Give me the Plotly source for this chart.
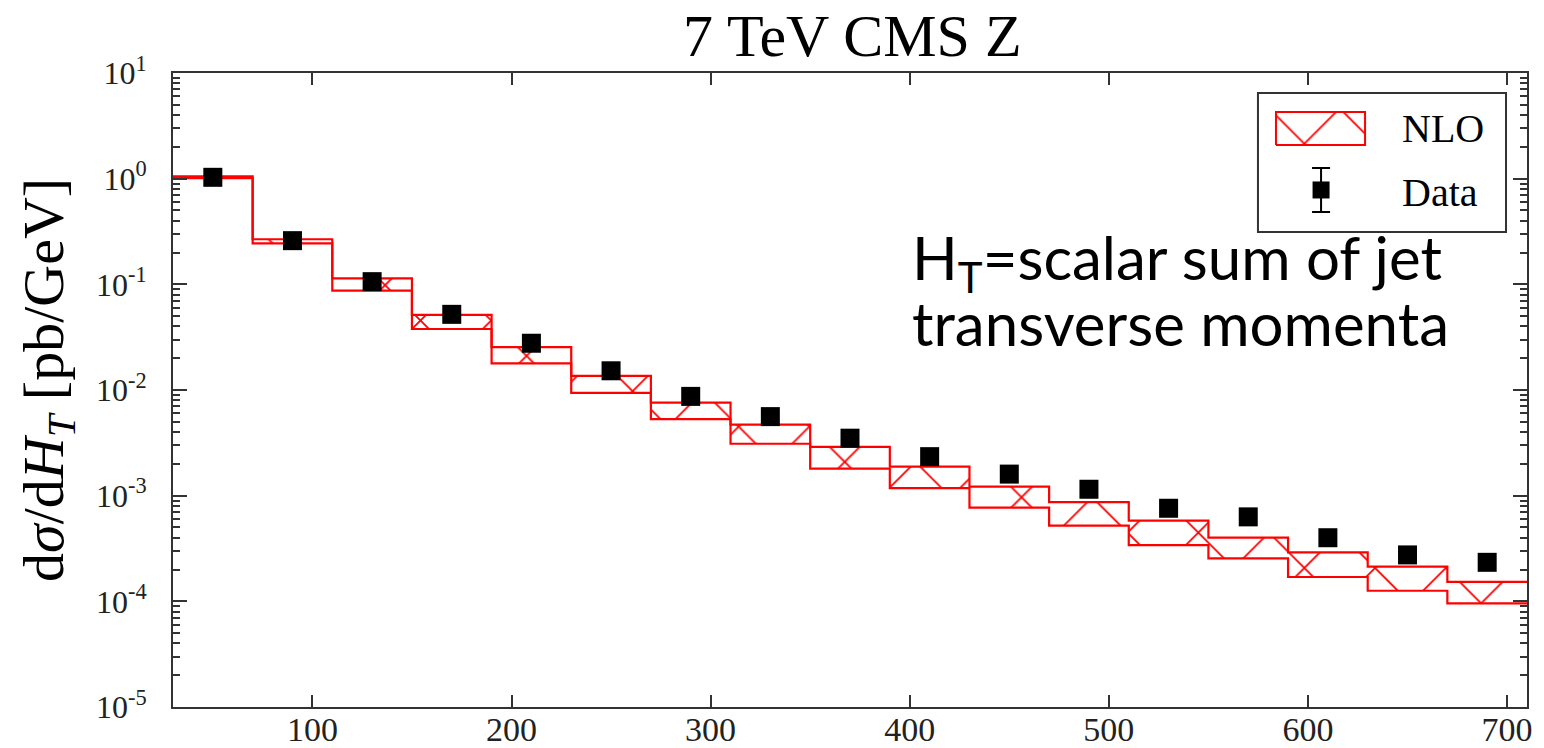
import plotly.graph_objects as go

# H_T binning [GeV]
bin_edges = [30, 70, 110, 150, 190, 230, 270, 310, 350, 390, 430, 470,
             510, 550, 590, 630, 670, 710]
bin_centres = [50, 90, 130, 170, 210, 250, 290, 330, 370, 410, 450, 490,
               530, 570, 610, 650, 690]

# NLO prediction band, dsigma/dH_T [pb/GeV]
nlo_upper = [1.05, 0.267, 0.114, 0.0513, 0.0254, 0.0136, 0.0076, 0.0047,
             0.0029, 0.00188, 0.00122, 0.00087, 0.00058, 0.00040, 0.00029,
             0.000213, 0.000153]
nlo_lower = [1.01, 0.244, 0.087, 0.0378, 0.0179, 0.0094, 0.0053, 0.0031,
             0.0018, 0.00118, 0.00077, 0.00052, 0.00034, 0.000255, 0.00017,
             0.000126, 0.0000957]

# CMS data points with uncertainties
data_xsec = [1.03, 0.259, 0.106, 0.052, 0.0277, 0.0152, 0.0087, 0.0056,
             0.0035, 0.00234, 0.0016, 0.00115, 0.00076, 0.00063, 0.00040,
             0.000275, 0.000234]
data_err = [0.04, 0.011, 0.005, 0.003, 0.0017, 0.0010, 0.0006, 0.0004,
            0.00026, 0.00018, 0.00013, 0.0001, 0.00007, 0.00006, 0.00004,
            0.00003, 0.00003]

y_tickvals = [1e-5, 1e-4, 1e-3, 1e-2, 1e-1, 1e0, 1e1]
y_ticktext = ["10<sup>-5</sup>", "10<sup>-4</sup>", "10<sup>-3</sup>",
              "10<sup>-2</sup>", "10<sup>-1</sup>", "10<sup>0</sup>",
              "10<sup>1</sup>"]
x_tickvals = [100, 200, 300, 400, 500, 600, 700]

SERIF = "Liberation Serif, Times New Roman, serif"
SANS = "Lato, sans-serif"
RED = "#ff0000"
AXIS = "#333333"
hatch = dict(shape="x", size=50, solidity=0.07, fgcolor=RED,
             bgcolor="rgba(0,0,0,0)", fgopacity=1)

fig = go.Figure()

# step outlines of the band (last value repeated to close the final bin)
fig.add_trace(go.Scatter(
    x=bin_edges, y=nlo_upper + nlo_upper[-1:], mode="lines",
    line=dict(color=RED, width=2.2, shape="hv"), showlegend=False,
    hoverinfo="skip"))
fig.add_trace(go.Scatter(
    x=bin_edges, y=nlo_lower + nlo_lower[-1:], mode="lines",
    line=dict(color=RED, width=2.2, shape="hv"), fill="tonexty",
    fillcolor="rgba(0,0,0,0)", fillpattern=hatch, showlegend=False,
    name="NLO"))

fig.add_trace(go.Scatter(
    x=bin_centres, y=data_xsec, mode="markers",
    marker=dict(symbol="square", size=19, color="black"),
    error_y=dict(type="data", array=data_err, color="black", thickness=2,
                 width=8),
    showlegend=False, name="Data"))

# legend key, drawn on a hidden overlay in plot-fraction units
legend_box = dict(x0=0.8013, x1=0.9845, y0=0.7492, y1=0.9685)
nlo_key_x = [0.8146, 0.8804, 0.8804, 0.8146, 0.8146]
nlo_key_y = [0.8864, 0.8864, 0.9385, 0.9385, 0.8864]
data_key_x, data_key_y, data_key_err = 0.8479, 0.8155, 0.0347

fig.add_trace(go.Scatter(
    x=nlo_key_x, y=nlo_key_y, mode="lines", fill="toself",
    fillcolor="rgba(0,0,0,0)", fillpattern=hatch,
    line=dict(color=RED, width=2), xaxis="x2", yaxis="y2",
    showlegend=False, hoverinfo="skip"))
fig.add_trace(go.Scatter(
    x=[data_key_x], y=[data_key_y], mode="markers",
    marker=dict(symbol="square", size=17, color="black"),
    error_y=dict(type="constant", value=data_key_err, color="black",
                 thickness=2, width=9),
    xaxis="x2", yaxis="y2", showlegend=False, hoverinfo="skip"))

fig.add_shape(type="rect", xref="paper", yref="paper",
              line=dict(color=AXIS, width=2), **legend_box)

fig.add_annotation(x=0.9062, y=0.9132, xref="paper", yref="paper",
                   text="NLO", showarrow=False, xanchor="left",
                   yanchor="middle", font=dict(family=SERIF, size=40,
                                               color="black"))
fig.add_annotation(x=0.9062, y=0.8123, xref="paper", yref="paper",
                   text="Data", showarrow=False, xanchor="left",
                   yanchor="middle", font=dict(family=SERIF, size=40,
                                               color="black"))

# title and axis title
fig.add_annotation(x=0.502, y=1.058, xref="paper", yref="paper",
                   text="7 TeV CMS Z", showarrow=False, xanchor="center",
                   yanchor="middle",
                   font=dict(family=SERIF, size=60, color="black"))
fig.add_annotation(x=-0.0923, y=0.516, xref="paper", yref="paper",
                   text="d<i>σ</i>/d<i>H<sub>T</sub></i> [pb/GeV]",
                   textangle=-90, showarrow=False, xanchor="center",
                   yanchor="middle",
                   font=dict(family=SERIF, size=58, color="black"))

# explanatory note, one annotation per line for tighter spacing
fig.add_annotation(x=0.5443, y=0.7700, xref="paper", yref="paper",
                   text="H<sub>T</sub>=scalar sum of jet",
                   showarrow=False, xanchor="left", yanchor="top",
                   font=dict(family=SANS, size=60, color="black"))
fig.add_annotation(x=0.5443, y=0.6664, xref="paper", yref="paper",
                   text="transverse momenta",
                   showarrow=False, xanchor="left", yanchor="top",
                   font=dict(family=SANS, size=60, color="black"))

fig.update_layout(
    width=1544, height=748,
    margin=dict(l=173, r=17, t=73, b=41, autoexpand=False),
    paper_bgcolor="white", plot_bgcolor="white",
    showlegend=False,
    xaxis=dict(range=[30, 710], tickvals=x_tickvals, ticks="inside",
               ticklen=12, tickwidth=2, tickcolor=AXIS, showline=True,
               linecolor=AXIS, linewidth=2, mirror="ticks", showgrid=False,
               zeroline=False, ticklabelstandoff=-9, automargin=False,
               tickfont=dict(family=SERIF, size=34, color="#222")),
    yaxis=dict(type="log", range=[-5, 1], tickvals=y_tickvals,
               ticktext=y_ticktext, ticks="inside", ticklen=14, tickwidth=2,
               tickcolor=AXIS, showline=True, linecolor=AXIS, linewidth=2,
               mirror="ticks", showgrid=False, zeroline=False,
               ticklabelstandoff=18, automargin=False,
               minor=dict(ticks="inside", ticklen=7, tickwidth=1.5,
                          tickcolor=AXIS, dtick="D1", showgrid=False),
               tickfont=dict(family=SERIF, size=32, color="#222")),
    xaxis2=dict(overlaying="x", range=[0, 1], visible=False, anchor="y2",
                automargin=False),
    yaxis2=dict(overlaying="y", range=[0, 1], visible=False, anchor="x2",
                automargin=False),
)

fig.write_html("out.html")
